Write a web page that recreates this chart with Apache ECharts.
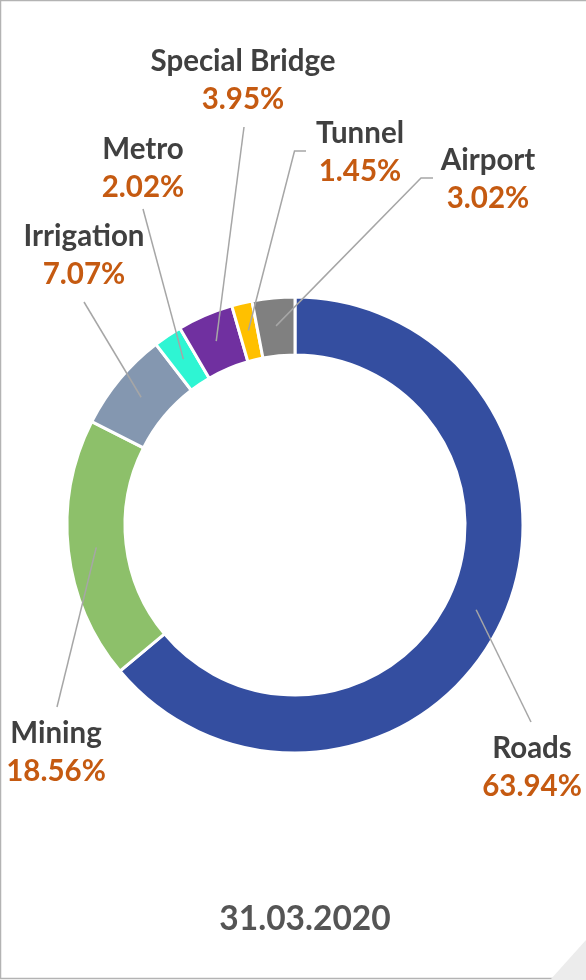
<!DOCTYPE html>
<html>
<head>
<meta charset="utf-8">
<script src="https://cdn.jsdelivr.net/npm/echarts@6/dist/echarts.min.js"></script>
<style>
  html, body { margin: 0; padding: 0; background: #fff; }
  #chart { width: 586px; height: 980px; }
</style>
</head>
<body>
<div id="chart"></div>
<script>
// data
const categories = ['Roads', 'Mining', 'Irrigation', 'Metro', 'Special Bridge', 'Tunnel', 'Airport']
const shares = [63.94, 18.56, 7.07, 2.02, 3.95, 1.45, 3.02]
const dateLabel = '31.03.2020'

const sliceColors = ['#344EA0', '#8DC06A', '#8497B0', '#2EF5D3', '#7030A0', '#FFC000', '#808080']

// where each label block sits, and where its leader line meets it
const labelSpots = [[532, 767], [56, 752], [84, 255], [143, 168], [243, 80], [360, 152], [488, 179]]
const lineAnchors = [
  [[531, 722]],
  [[57, 707]],
  [[84, 302]],
  [[143, 209]],
  [[244, 127]],
  [[294.5, 151], [306, 151]],
  [[421, 178], [433, 178]]
]

const cx = 295
const cy = 525
const midRing = 200
const fontStack = 'Lato, "Open Sans", sans-serif'

const total = shares.reduce((a, b) => a + b, 0)
const midPoints = []
let acc = 0
shares.forEach((v) => {
  const a = (2 * Math.PI * (acc + v / 2)) / total
  midPoints.push([cx + midRing * Math.sin(a), cy - midRing * Math.cos(a)])
  acc += v
})

const pieData = categories.map((name, i) => ({
  name,
  value: shares[i],
  itemStyle: { color: sliceColors[i] }
}))

const chart = echarts.init(document.getElementById('chart'))

chart.setOption({
  animation: false,
  backgroundColor: '#fff',
  textStyle: { fontFamily: fontStack },
  graphic: [
    {
      type: 'rect',
      shape: { x: 0.5, y: 0.5, width: 590, height: 978 },
      style: { fill: null, stroke: '#b3b3b3', lineWidth: 1.5 },
      silent: true
    },
    {
      type: 'polygon',
      shape: { points: [[586, 940], [586, 979], [551, 979]] },
      style: { fill: '#ececec' },
      silent: true
    },
    {
      type: 'text',
      x: 305,
      y: 919,
      style: {
        text: dateLabel,
        align: 'center',
        verticalAlign: 'middle',
        fill: '#555555',
        font: 'bold 33.5px ' + fontStack
      }
    }
  ],
  series: [
    // the ring itself
    {
      type: 'pie',
      z: 2,
      center: [cx, cy],
      radius: [170, 228],
      startAngle: 90,
      clockwise: true,
      silent: true,
      itemStyle: { borderColor: '#fff', borderWidth: 3 },
      label: { show: false },
      labelLine: { show: false },
      data: pieData
    },
    // same slices, invisible, carrying labels and leader lines on top
    {
      type: 'pie',
      z: 5,
      center: [cx, cy],
      radius: [170, 228],
      startAngle: 90,
      clockwise: true,
      silent: true,
      avoidLabelOverlap: false,
      itemStyle: { color: 'rgba(0,0,0,0)', borderWidth: 0 },
      label: {
        show: true,
        position: 'outside',
        formatter: (p) => '{n|' + p.name + '}\n{p|' + p.value.toFixed(2) + '%}',
        rich: {
          n: { fontSize: 29.5, fontWeight: 'bold', color: '#404040', lineHeight: 38, fontFamily: 'Lato' },
          p: { fontSize: 29.5, fontWeight: 'bold', color: '#C55A11', lineHeight: 38, fontFamily: 'Lato' }
        }
      },
      labelLine: {
        show: true,
        lineStyle: { color: '#A6A6A6', width: 1.5 }
      },
      labelLayout: (params) => {
        const i = params.dataIndex
        const anchors = lineAnchors[i]
        const pts = [midPoints[i]].concat(anchors)
        if (pts.length === 2) pts.push(anchors[0])
        return {
          x: labelSpots[i][0],
          y: labelSpots[i][1],
          align: 'center',
          verticalAlign: 'middle',
          labelLinePoints: pts
        }
      },
      data: categories.map((name, i) => ({ name, value: shares[i] }))
    }
  ]
})
</script>
</body>
</html>
